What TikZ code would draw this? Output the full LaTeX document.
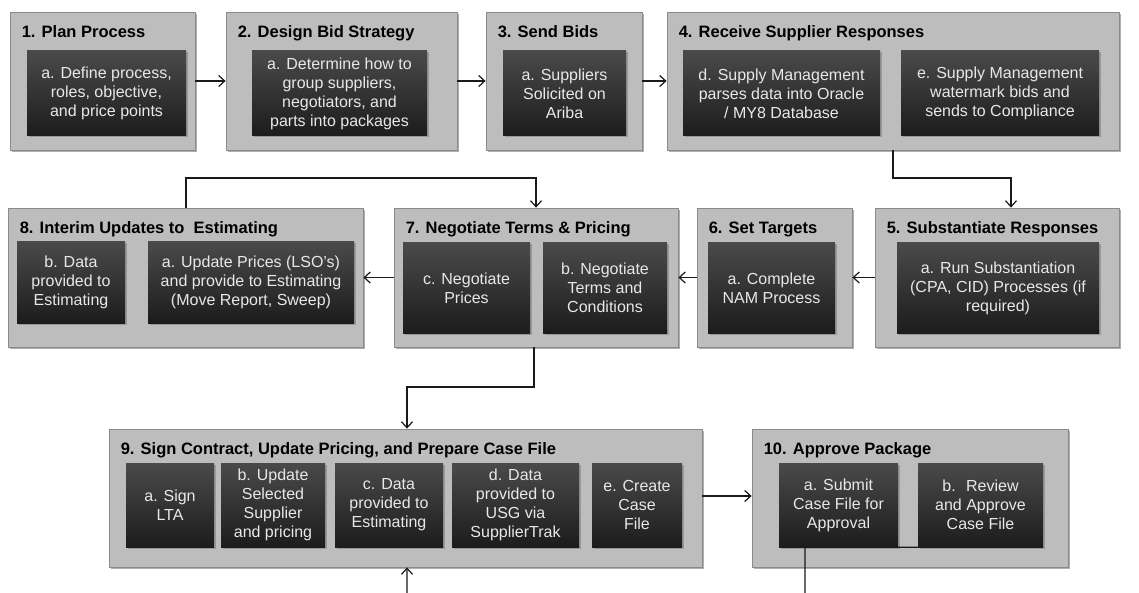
\documentclass[tikz,border=0pt]{standalone}
\usepackage{fontspec}
\setmainfont{Liberation Sans}
\usetikzlibrary{arrows.meta,shadows,calc}
\definecolor{outerfill}{HTML}{BDBDBD}
\definecolor{outerline}{HTML}{8A8A8A}
\definecolor{innertop}{HTML}{4A4A4A}
\definecolor{innerbot}{HTML}{1C1C1C}
\definecolor{innertext}{HTML}{E8E8E8}
\definecolor{connline}{HTML}{1A1A1A}
\tikzset{
  outerbox/.style={draw=outerline, line width=0.8pt, fill=outerfill, inner sep=0pt,
    drop shadow={shadow xshift=1.5pt, shadow yshift=-2pt, fill=black!45, opacity=0.7}},
  innerbox/.style={top color=innertop, bottom color=innerbot, inner sep=0pt, align=center,
    text=innertext, font=\fontsize{16}{19}\selectfont,
    drop shadow={shadow xshift=1.5pt, shadow yshift=-1.5pt, fill=black!50, opacity=0.6}},
  titletext/.style={inner sep=0pt, anchor=base west, font=\bfseries\fontsize{16.5}{19}\selectfont},
  conn/.style={draw=connline, line width=1.2pt, -{Straight Barb[length=6pt,width=11pt,line width=1.2pt]}},
  plainconn/.style={draw=connline, line width=1.2pt}
}
\newcommand\obox[6]{%
  \node[outerbox, minimum width={(#4-#2)*1pt}, minimum height={(#5-#3)*1pt}] (#1) at ({(#2+#4)/2},{(#3+#5)/2}) {};
  \node[titletext] (#1t) at ($(#1.north west)+(12,26)$) {#6};}
\newcommand\ibox[6]{%
  \node[innerbox, minimum width={(#4-#2)*1pt}, minimum height={(#5-#3)*1pt}] (#1) at ({(#2+#4)/2},{(#3+#5)/2}) {#6};}
\begin{document}
\begin{tikzpicture}[x=1pt, y=-1pt]
\fill[white] (0,0) rectangle (1139,593);
\useasboundingbox (0,0) rectangle (1139,593);

% Row 1
\obox{b1}{10}{12}{195}{150}{1. Plan Process}
\ibox{b1a}{27}{51}{186}{136}{a. Define process,\\roles, objective,\\and price points}
\obox{b2}{226}{12}{457}{150}{2. Design Bid Strategy}
\ibox{b2a}{252}{51}{427}{136}{a. Determine how to\\group suppliers,\\negotiators, and\\parts into packages}
\obox{b3}{486}{12}{642}{150}{3. Send Bids}
\ibox{b3a}{503}{51}{626}{136}{a. Suppliers\\Solicited on\\Ariba}
\obox{b4}{667}{12}{1119}{150}{4. Receive Supplier Responses}
\ibox{b4d}{683}{51}{880}{136}{d. Supply Management\\parses data into Oracle\\/ MY8 Database}
\ibox{b4e}{901}{51}{1099}{136}{e. Supply Management\\watermark bids and\\sends to Compliance}

% Row 2
\obox{b8}{8}{208}{363}{347}{8. Interim Updates to~ Estimating}
\ibox{b8b}{17}{242}{125}{323}{b. Data\\provided to\\Estimating}
\ibox{b8a}{148}{242}{354}{323}{a. Update Prices (LSO's)\\and provide to Estimating\\(Move Report, Sweep)}
\obox{b7}{394}{208}{678}{347}{7. Negotiate Terms \& Pricing}
\ibox{b7c}{403}{243}{530}{333}{c. Negotiate\\Prices}
\ibox{b7b}{543}{243}{667}{333}{b. Negotiate\\Terms and\\Conditions}
\obox{b6}{697}{208}{852}{347}{6. Set Targets}
\ibox{b6a}{708}{243}{835}{333}{a. Complete\\NAM Process}
\obox{b5}{875}{208}{1119}{347}{5. Substantiate Responses}
\ibox{b5a}{897}{243}{1099}{333}{a. Run Substantiation\\(CPA, CID) Processes (if\\required)}

% Row 3
\obox{b9}{109}{429}{702}{567}{9. Sign Contract, Update Pricing, and Prepare Case File}
\ibox{b9a}{126}{463}{214}{547}{a. Sign\\LTA}
\ibox{b9b}{221}{463}{325}{547}{b. Update\\Selected\\Supplier\\and pricing}
\ibox{b9c}{335}{463}{443}{547}{c. Data\\provided to\\Estimating}
\ibox{b9d}{452}{463}{579}{547}{d. Data\\provided to\\USG via\\SupplierTrak}
\ibox{b9e}{592}{463}{682}{547}{e. Create\\Case\\File}
\obox{b10}{752}{429}{1068}{567}{10. Approve Package}
\ibox{b10a}{779}{463}{898}{547}{a. Submit\\Case File for\\Approval}
\ibox{b10b}{918}{463}{1043}{547}{b.~ Review\\and Approve\\Case File}

% Straight connectors
\draw[conn] (b1.east) -- (b2.west);
\draw[conn] (b2.east) -- (b3.west);
\draw[conn] (b3.east) -- (b4.west);
\draw[conn] (b5.west) -- (b6.east);
\draw[conn] (b6.west) -- (b7.east);
\draw[conn] (b7.west) -- (b8.east);
\draw[conn] (b9.east |- 0,496) -- (b10.west |- 0,496);

% Elbow connectors
\coordinate (k1) at (893,178);
\coordinate (k2) at (1011,178);
\draw[conn] (b4.south -| k1) -- (k1) -- (k2) -- (b5.north -| k2);
\coordinate (k3) at (186,178);
\coordinate (k4) at (536,178);
\draw[conn] (b8.north -| k3) -- (k3) -- (k4) -- (b7.north -| k4);
\coordinate (k5) at (534,387);
\coordinate (k6) at (407,387);
\draw[conn] (b7.south -| k5) -- (k5) -- (k6) -- (b9.north -| k6);
\begin{scope}
\clip (0,0) rectangle (1139,593);
\coordinate (k7) at (805,547);
\coordinate (k8) at (805,610);
\coordinate (k9) at (407,610);
\draw[conn] (b10b.south west) -- (k7) -- (k8) -- (k9) -- (b9.south -| k9);
\end{scope}
\end{tikzpicture}
\end{document}
